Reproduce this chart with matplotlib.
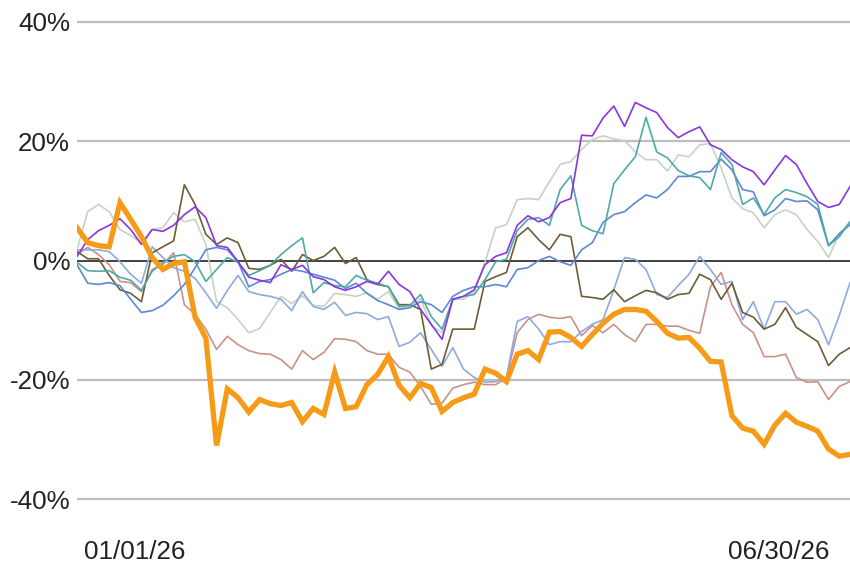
import matplotlib
matplotlib.use("Agg")
import matplotlib.pyplot as plt
import matplotlib.dates as mdates
import pandas as pd

# sampled every 3 days, 16 Dec 2025 .. 20 Jul 2026 (percent change)
dates = pd.date_range("2025-12-16", periods=73, freq="3D")

orange = [5.5, 3.0, 2.5, 2.3, 9.7, 6.9, 4.0, 0.5, -1.5, -0.5,
          -0.2, -9.5, -13.0, -31.0, -21.5, -23.0, -25.4, -23.3, -24.0, -24.3,
          -23.8, -27.0, -24.8, -25.8, -18.7, -24.8, -24.5, -20.8, -19.1, -16.1,
          -20.9, -23.0, -20.6, -21.3, -25.3, -23.8, -23.0, -22.4, -18.2, -18.9,
          -20.3, -15.7, -15.1, -16.6, -12.0, -11.9, -12.9, -14.4, -12.4, -10.5,
          -9.0, -8.2, -8.2, -8.5, -10.2, -12.2, -13.0, -12.9, -14.7, -16.9,
          -17.0, -26.0, -28.1, -28.6, -30.8, -27.6, -25.6, -27.1, -27.8, -28.6,
          -31.6, -32.8, -32.5]

purple = [0.7, 3.5, 5.0, 5.9, 7.0, 5.2, 2.7, 5.2, 4.9, 5.9,
          7.7, 9.0, 7.2, 2.5, 2.2, -0.2, -2.8, -3.3, -3.7, -0.7,
          -1.5, -0.8, -2.7, -3.2, -4.4, -5.0, -4.4, -3.5, -4.0, -1.8,
          -4.0, -5.2, -8.2, -10.7, -13.2, -6.5, -6.0, -4.9, -0.7, 0.7,
          1.3, 5.9, 7.5, 6.5, 7.2, 9.7, 10.4, 21.0, 20.9, 23.9,
          25.9, 22.5, 26.5, 25.6, 24.8, 22.3, 20.6, 21.6, 22.4, 19.4,
          18.6, 16.9, 15.7, 14.9, 12.7, 15.2, 17.6, 16.1, 12.9, 9.9,
          8.9, 9.4, 12.4]

teal = [-0.3, -1.7, -1.8, -1.7, -2.8, -3.3, -5.0, -1.8, -0.3, 0.7,
        1.0, -0.2, -3.5, -1.5, 0.5, -0.3, -2.5, -1.7, -0.8, 1.0,
        2.5, 3.8, -5.4, -3.7, -4.2, -4.4, -2.5, -3.3, -3.8, -4.4,
        -7.7, -7.5, -5.7, -9.4, -11.5, -6.5, -6.0, -5.7, -3.2, -0.2,
        0.2, 5.0, 6.9, 7.2, 5.9, 11.9, 14.2, 5.9, 5.0, 4.5,
        12.9, 15.2, 17.4, 24.0, 18.2, 17.2, 15.1, 14.2, 13.9, 11.9,
        18.1, 16.1, 9.4, 10.5, 7.7, 10.5, 11.9, 11.4, 10.7, 9.4,
        2.5, 4.0, 6.5]

blue = [-0.7, -3.8, -4.0, -3.7, -4.2, -6.5, -8.7, -8.4, -7.5, -5.9,
        -4.0, -1.2, 1.8, 2.2, 1.8, -0.2, -4.4, -3.5, -3.2, -2.3,
        -1.5, -1.8, -2.3, -2.8, -3.3, -4.7, -3.8, -5.5, -6.7, -7.4,
        -8.2, -7.9, -6.9, -7.4, -8.7, -6.0, -5.0, -4.4, -4.4, -4.0,
        -4.4, -1.5, -1.2, 0.0, 0.7, -0.2, -0.8, 1.8, 3.0, 6.4,
        7.7, 8.2, 9.7, 11.0, 10.5, 11.9, 14.1, 14.1, 14.9, 14.9,
        17.0, 15.2, 11.9, 11.5, 7.5, 8.5, 10.4, 9.9, 10.0, 8.5,
        2.5, 4.5, 6.0]

light_blue = [1.8, 1.8, 1.8, 1.5, -0.2, -2.3, -3.8, 2.3, 0.5, -1.2,
              -1.8, -3.0, -5.4, -8.0, -5.0, -2.5, -5.2, -5.7, -6.0, -6.5,
              -8.4, -5.2, -7.7, -8.2, -7.0, -9.2, -8.7, -8.9, -9.9, -9.4,
              -14.4, -13.7, -12.1, -14.9, -17.7, -14.6, -18.2, -19.6, -20.4, -20.3,
              -19.6, -10.2, -9.4, -11.5, -14.1, -13.6, -13.6, -11.9, -10.7, -9.9,
              -4.9, 0.5, 0.2, -1.5, -5.7, -6.2, -4.2, -2.3, 0.7, -1.5,
              -4.0, -3.5, -9.9, -6.9, -11.5, -6.9, -6.9, -9.0, -8.2, -9.9,
              -14.1, -9.2, -3.7]

sage = [1.8, 8.2, 9.4, 8.2, 5.2, 4.2, 3.0, 5.2, 5.5, 8.0,
        6.5, 6.9, 2.7, -6.9, -7.9, -9.9, -12.1, -11.4, -8.7, -6.0,
        -7.2, -5.9, -7.5, -7.7, -5.5, -5.7, -6.0, -5.4, -6.5, -5.2,
        -8.0, -7.7, -6.4, -10.9, -12.1, -6.5, -6.5, -5.2, -0.3, 5.5,
        6.0, 10.2, 10.4, 10.2, 13.2, 16.1, 16.6, 18.6, 20.3, 20.9,
        20.4, 20.1, 18.2, 16.9, 16.9, 15.0, 17.7, 17.4, 19.4, 19.6,
        15.5, 10.5, 8.7, 8.0, 5.5, 7.7, 8.5, 7.7, 5.2, 3.2,
        0.5, 4.5, 6.5]

olive = [1.5, 0.3, 0.3, -2.5, -4.9, -5.5, -6.9, 1.3, 2.3, 3.3,
         12.7, 9.4, 4.4, 2.7, 3.8, 3.0, -1.3, -1.5, -0.8, 0.2,
         -1.8, 1.0, 0.0, 0.7, 2.2, -0.5, 0.5, -3.2, -4.0, -4.4,
         -7.4, -7.4, -8.2, -18.2, -17.4, -11.5, -11.5, -11.5, -3.5, -2.7,
         -2.0, 4.0, 5.5, 3.5, 1.8, 4.4, 4.0, -6.0, -6.2, -6.5,
         -4.9, -6.9, -5.9, -5.0, -5.4, -6.5, -5.7, -5.5, -2.3, -3.2,
         -6.5, -3.8, -8.7, -9.5, -11.5, -10.7, -7.9, -11.2, -12.4, -13.6,
         -17.6, -15.7, -14.6]

rose = [1.0, 2.2, 1.0, -0.7, -3.5, -3.7, -5.2, -1.5, -0.7, 1.3,
        -7.4, -9.0, -11.5, -14.9, -12.7, -14.1, -15.1, -15.6, -15.7, -16.6,
        -18.2, -15.1, -16.6, -15.4, -13.1, -13.2, -13.6, -15.1, -15.7, -15.7,
        -17.9, -18.7, -21.1, -24.1, -23.9, -21.4, -20.8, -20.4, -20.8, -20.8,
        -19.7, -12.1, -9.9, -9.0, -9.5, -9.7, -9.4, -12.6, -10.9, -12.1,
        -10.7, -12.4, -13.6, -10.7, -10.7, -11.0, -11.0, -11.7, -12.2, -4.4,
        -2.0, -7.4, -10.7, -12.1, -16.1, -16.1, -15.7, -19.6, -20.4, -20.3,
        -23.3, -21.1, -20.3]

y_ticks = [-40, -20, 0, 20, 40]
x_ticks = ["2026-01-01", "2026-06-30"]

plt.rcParams["font.family"] = ["Liberation Sans", "DejaVu Sans"]

fig = plt.figure(figsize=(8.5, 5.68), dpi=100)
ax = fig.add_axes([0.0906, 0.0792, 0.9094, 0.9032])

thin = [(sage, "#c5d4c1"), (rose, "#c99189"), (light_blue, "#8eaade"),
        (olive, "#6c5d34"), (blue, "#5c88d5"), (teal, "#4fa9a8"),
        (purple, "#8a35e0")]
for vals, col in thin:
    ax.plot(dates, vals, color=col, lw=1.2, zorder=3)
ax.plot(dates, orange, color="#f59b18", lw=3.8, zorder=4,
        solid_joinstyle="miter")

ax.set_xlim(dates[0], dates[-1])
ax.set_ylim(-44, 42)

ax.set_yticks(y_ticks)
ax.set_yticklabels([f"{v}%" for v in y_ticks])
ax.set_xticks(pd.to_datetime(x_ticks))
ax.xaxis.set_major_formatter(mdates.DateFormatter("%m/%d/%y"))

for v in y_ticks:
    if v == 0:
        ax.axhline(v, color="#333333", lw=1.3, zorder=2)
    else:
        ax.axhline(v, color="#bdbdbd", lw=1.6, zorder=1)

for s in ax.spines.values():
    s.set_visible(False)
ax.tick_params(axis="y", length=0, pad=5, labelsize=18.7, labelcolor="#222222")
ax.tick_params(axis="x", length=0, pad=12, labelsize=18.7, labelcolor="#222222")

fig.savefig("out.png", dpi=100)
